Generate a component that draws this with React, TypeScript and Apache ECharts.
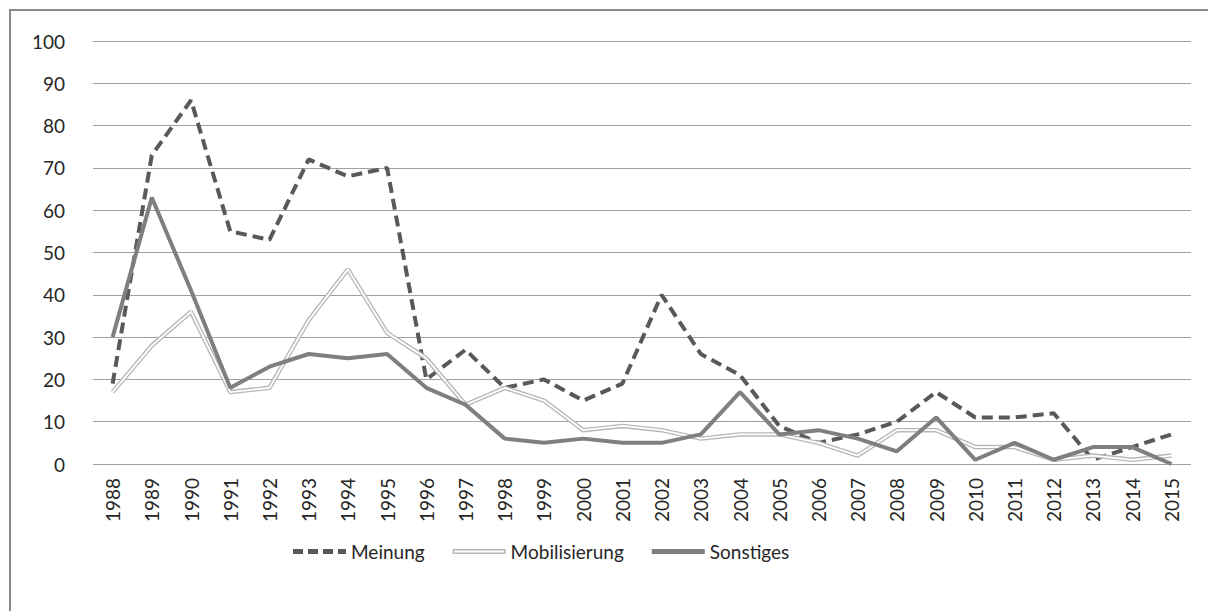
import React, { useEffect, useRef } from 'react';
import * as echarts from 'echarts';

const years = ['1988','1989','1990','1991','1992','1993','1994','1995','1996','1997','1998','1999','2000','2001','2002','2003','2004','2005','2006','2007','2008','2009','2010','2011','2012','2013','2014','2015'];
const meinung = [19, 73, 86, 55, 53, 72, 68, 70, 20, 27, 18, 20, 15, 19, 40, 26, 21, 9, 5, 7, 10, 17, 11, 11, 12, 1, 4, 7];
const mobilisierung = [17, 28, 36, 17, 18, 34, 46, 31, 25, 14, 18, 15, 8, 9, 8, 6, 7, 7, 5, 2, 8, 8, 4, 4, 1, 2, 1, 2];
const sonstiges = [30, 63, 41, 18, 23, 26, 25, 26, 18, 14, 6, 5, 6, 5, 5, 7, 17, 7, 8, 6, 3, 11, 1, 5, 1, 4, 4, 0];
const yMin = 0;
const yMax = 100;
const yInterval = 10;

const FONT = 'Lato';
const TEXT = '#262626';

export default function App() {
  const ref = useRef<HTMLDivElement>(null);
  useEffect(() => {
    const chart = echarts.init(ref.current!, null, { renderer: 'svg' });
    chart.setOption({
      animation: false,
      backgroundColor: '#ffffff',
      textStyle: { fontFamily: FONT },
      grid: { left: 93, right: 17, top: 41, bottom: 147, containLabel: false },
      graphic: [
        {
          type: 'rect',
          shape: { x: 10, y: 10, width: 1400, height: 800 },
          style: { fill: 'none', stroke: '#8a8a8a', lineWidth: 2 },
          silent: true,
          z: 0,
        },
      ],
      legend: {
        left: 288,
        top: 537,
        itemWidth: 53,
        itemHeight: 5,
        itemGap: 28,
        textStyle: { fontFamily: FONT, fontSize: 19, color: TEXT },
        itemStyle: { borderWidth: 0 },
        data: [
          { name: 'Meinung', icon: 'path://M0,0h10v5h-10z M15,0h10v5h-10z M30,0h10v5h-10z M45,0h8v5h-8z' },
          { name: 'Mobilisierung', icon: 'path://M0,0h53v5h-53z M1.5,1.5v2h50v-2z' },
          { name: 'Sonstiges', icon: 'path://M0,0h53v5h-53z' },
        ],
      },
      xAxis: {
        type: 'category',
        data: years,
        boundaryGap: true,
        axisLine: { show: false },
        axisTick: { show: false },
        axisLabel: {
          rotate: 90,
          margin: 14,
          fontFamily: FONT,
          fontSize: 19,
          color: TEXT,
          interval: 0,
        },
      },
      yAxis: {
        type: 'value',
        min: yMin,
        max: yMax,
        interval: yInterval,
        axisLine: { show: false },
        axisTick: { show: false },
        splitLine: { lineStyle: { color: '#a0a0a0', width: 1 } },
        axisLabel: { margin: 28, fontFamily: FONT, fontSize: 19, color: TEXT },
      },
      series: [
        {
          name: 'Meinung',
          type: 'line',
          data: meinung,
          symbol: 'none',
          itemStyle: { color: '#595959', borderWidth: 0 },
          lineStyle: { color: '#595959', width: 4, type: [11, 6] },
          z: 2,
        },
        {
          name: 'Mobilisierung',
          type: 'line',
          data: mobilisierung,
          symbol: 'none',
          itemStyle: { color: '#b8b8b8', borderWidth: 0 },
          lineStyle: { color: '#b8b8b8', width: 4.5 },
          z: 3,
        },
        {
          name: 'Mobilisierung (innen)',
          type: 'line',
          data: mobilisierung,
          symbol: 'none',
          itemStyle: { color: '#ffffff', borderWidth: 0 },
          lineStyle: { color: '#ffffff', width: 1.8 },
          z: 4,
        },
        {
          name: 'Sonstiges',
          type: 'line',
          data: sonstiges,
          symbol: 'none',
          itemStyle: { color: '#7f7f7f', borderWidth: 0 },
          lineStyle: { color: '#7f7f7f', width: 4 },
          z: 5,
        },
      ],
    });
    return () => chart.dispose();
  }, []);
  return (
    <div
      ref={ref}
      style={{ position: 'fixed', left: 0, top: 0, width: 1208, height: 611, background: '#fff' }}
    />
  );
}
